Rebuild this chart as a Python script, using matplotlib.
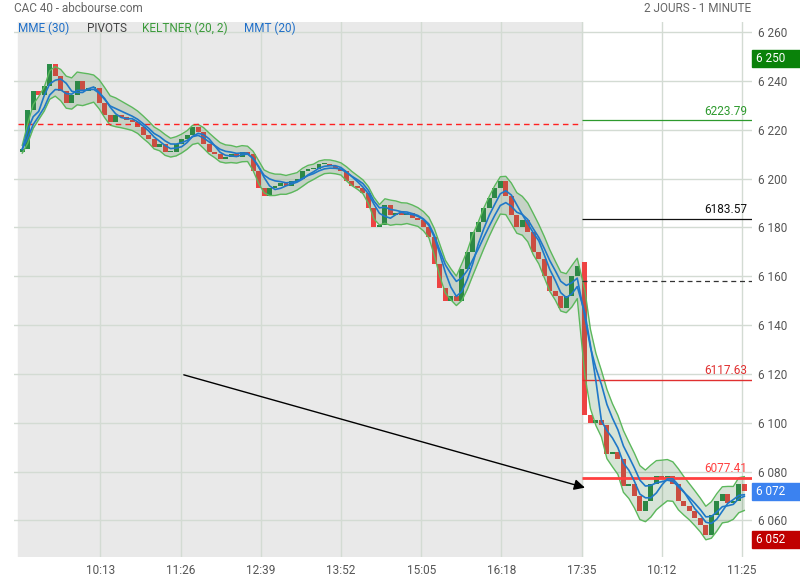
import matplotlib

matplotlib.use("Agg")
import matplotlib.pyplot as plt
import numpy as np
import pandas as pd
from matplotlib.patches import Rectangle
from matplotlib.transforms import blended_transform_factory

plt.rcParams["font.family"] = ["Roboto", "DejaVu Sans"]

# --- data (5-minute closes) -------------------------------------------------
DAY1_OPEN = 6211
DAY1_CLOSE = [
    6212, 6228, 6236, 6234, 6238, 6247, 6242, 6236, 6231, 6234,
    6240, 6236, 6237, 6237, 6231, 6226, 6223, 6226, 6225, 6224,
    6223, 6221, 6218, 6216, 6213, 6214, 6211, 6211, 6214, 6216,
    6218, 6221, 6219, 6214, 6211, 6210, 6208, 6209, 6210, 6209,
    6211, 6210, 6203, 6196, 6193, 6196, 6197, 6198, 6197, 6199,
    6200, 6203, 6204, 6204, 6206, 6206, 6205, 6204, 6203, 6199,
    6197, 6196, 6194, 6188, 6180, 6181, 6189, 6185, 6186, 6185,
    6186, 6184, 6183, 6180, 6176, 6165, 6155, 6150, 6152, 6150,
    6163, 6170, 6178, 6182, 6188, 6192, 6196, 6199, 6193, 6185,
    6180, 6183, 6178, 6170, 6167, 6160, 6154, 6152, 6147, 6152,
    6160, 6164,
]
DAY2_OPEN = 6166
DAY2_CLOSE = [
    6103, 6100, 6101, 6099, 6087, 6088, 6085, 6074, 6075, 6070,
    6064, 6068, 6075, 6078, 6077, 6078, 6075, 6068, 6066, 6064,
    6061, 6058, 6054, 6062, 6068, 6071, 6067, 6068, 6075, 6072,
]
BAR_MINUTES = 5
DAY2_START = 512          # bar index of 9:00 on day 2 (day 1 ends 17:35 = 511)
DAY1_END = 511

TICK_POS = [73, 146, 219, 292, 365, 438, 511, 584, 657]
TICK_LABELS = ["10:13", "11:26", "12:39", "13:52", "15:05", "16:18", "17:35", "10:12", "11:25"]
PRICE_TICKS = list(range(6060, 6261, 20))

PIVOT_LEVELS = [6223.79, 6183.57, 6158.0, 6117.63, 6077.41]
PIVOT_LABELS = ["6223.79", "6183.57", "", "6117.63", "6077.41"]
PREV_LEVEL = 6222.5

BOX_VALUES = [6249, 6072, 6052]
BOX_LABELS = ["6 250", "6 072", "6 052"]

ARROW_START = (149, 6119.6)
ARROW_END = (514, 6073.4)

# --- bars -------------------------------------------------------------------
closes = DAY1_CLOSE + DAY2_CLOSE
opens = [DAY1_OPEN] + DAY1_CLOSE[:-1] + [DAY2_OPEN] + DAY2_CLOSE[:-1]
x = [BAR_MINUTES * k + 2 for k in range(len(DAY1_CLOSE))] + \
    [DAY2_START + BAR_MINUTES * k + 2 for k in range(len(DAY2_CLOSE))]
df = pd.DataFrame({"x": x, "open": opens, "close": closes})

# indicator periods scaled from 1-minute to 5-minute bars
df["mme"] = df["close"].ewm(span=30 / BAR_MINUTES, adjust=False).mean()
df["mmt"] = df["close"].rolling(20 // BAR_MINUTES, min_periods=1).mean()
mid = df["close"].ewm(span=20 / BAR_MINUTES, adjust=False).mean()
tr = (df["close"] - df["open"]).abs()
atr = tr.ewm(alpha=1 / 10, adjust=False).mean()
df["k_up"] = mid + 2 * atr * 0.8
df["k_dn"] = mid - 2 * atr * 0.8

# --- figure -----------------------------------------------------------------
fig = plt.figure(figsize=(8, 5.8), dpi=100)
ax = fig.add_axes([14 / 800, 1 - 557 / 580, (752 - 14) / 800, (557 - 22) / 580])
ax.set_xlim(-5.5, 666)
ax.set_ylim(6045.0, 6264.1)
for s in ax.spines.values():
    s.set_visible(False)

ax.axvspan(-1.8, DAY1_END, color="#e9e9e9", zorder=0)
ax.set_yticks(PRICE_TICKS)
ax.set_yticklabels([f"{v:,}".replace(",", " ") for v in PRICE_TICKS])
ax.set_xticks(TICK_POS)
ax.set_xticklabels(TICK_LABELS)
ax.yaxis.tick_right()
ax.tick_params(axis="y", length=0, pad=4, labelsize=8.5, labelcolor="#555555")
ax.tick_params(axis="x", length=0, pad=5, labelsize=8.5, labelcolor="#555555")
ax.grid(True, color="#d3dbd3", lw=1, zorder=0.5)

# candles
up = df["close"] >= df["open"]
body = (df["close"] - df["open"]).abs().clip(lower=0.4)
bottom = df[["open", "close"]].min(axis=1)
ax.bar(df["x"], body, bottom=bottom, width=4.5,
       color=np.where(up, "#2a8c48", "#ee4343"), zorder=2)

# keltner band on top of candles
ax.fill_between(df["x"], df["k_dn"], df["k_up"], color="#3a7a3a", alpha=0.2, lw=0, zorder=3)
ax.plot(df["x"], df["k_up"], color="#5cb85c", lw=1, zorder=4)
ax.plot(df["x"], df["k_dn"], color="#5cb85c", lw=1, zorder=4)
ax.plot(df["x"], df["mme"], color="#1f78c8", lw=1.2, zorder=5)
ax.plot(df["x"], df["mmt"], color="#1f78c8", lw=1.2, zorder=5)

# pivots
ax.hlines(PREV_LEVEL, -1.8, DAY1_END, color="#ff2020", lw=1, linestyles=(0, (4, 3)), zorder=4)
piv_colors = ["#2e9a2e", "#111111", "#333333", "#e03030", "#ff4040"]
piv_widths = [0.9, 0.9, 0.9, 1.0, 2.0]
piv_styles = ["-", "-", (0, (4, 3)), "-", "-"]
for lvl, lab, c, lw, ls in zip(PIVOT_LEVELS, PIVOT_LABELS, piv_colors, piv_widths, piv_styles):
    ax.hlines(lvl, DAY1_END, 666, color=c, lw=lw, linestyles=[ls], zorder=4)
    if lab:
        ax.annotate(lab, (661.5, lvl), xytext=(0, 2), textcoords="offset points",
                    ha="right", va="bottom", color=c, fontsize=8.5)

# trend arrow
ax.annotate("", xy=ARROW_END, xytext=ARROW_START,
            arrowprops=dict(arrowstyle="-|>", color="black", lw=1, mutation_scale=16,
                            shrinkA=0, shrinkB=0), zorder=6)

# price boxes on the axis
trans = blended_transform_factory(ax.transAxes, ax.transData)
for val, lab, c in zip(BOX_VALUES, BOX_LABELS, ["#0a820a", "#3b82f0", "#c00000"]):
    ax.add_patch(Rectangle((1.0, val - 3.5), 48 / 738, 7.0, transform=trans,
                           color=c, clip_on=False, zorder=7))
    ax.text(1.0 + 4 / 738, val, lab, transform=trans, color="white", fontsize=8.5,
            va="center", ha="left", zorder=8)

# header and legend
fig.text(14 / 800, 1 - 9 / 580, "CAC 40 - abcbourse.com", color="#666666", fontsize=8.5, va="center")
fig.text(751 / 800, 1 - 9 / 580, "2 JOURS - 1 MINUTE", color="#666666", fontsize=8.5,
         va="center", ha="right")
for px, txt, c in [(18, "MME (30)", "#1f6fc8"), (87, "PIVOTS", "#444444"),
                   (142, "KELTNER (20, 2)", "#3a9a3a"), (244, "MMT (20)", "#1f6fc8")]:
    fig.text(px / 800, 1 - 28 / 580, txt, color=c, fontsize=8.5, va="center")

fig.savefig("out.png", dpi=100)
